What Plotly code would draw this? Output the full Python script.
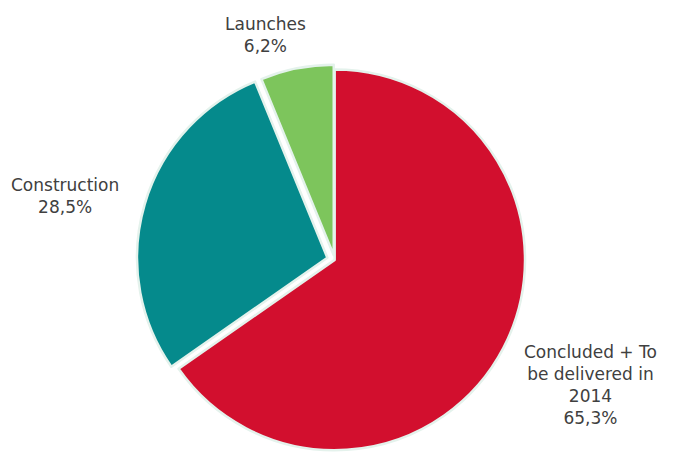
import plotly.graph_objects as go

categories = ["Concluded + To<br>be delivered in<br>2014", "Construction", "Launches"]
values = [65.3, 28.5, 6.2]
colors = ["#D20F2E", "#058A8C", "#7DC55C"]
pulls = [0, 0.04, 0.025]
label_pos = [(0.864, 0.167), (0.095, 0.576), (0.388, 0.924)]

fig = go.Figure()
fig.add_trace(go.Pie(
    labels=categories, values=values, sort=False, direction="clockwise",
    rotation=0, pull=pulls,
    marker=dict(colors=colors, line=dict(color="#E4F2EC", width=2.5)),
    textinfo="none", hoverinfo="label+percent", showlegend=False,
    domain=dict(x=[0.2, 0.78], y=[0.009, 0.866]),
))

for lab, v, (x, y) in zip(categories, values, label_pos):
    fig.add_annotation(
        x=x, y=y, xref="paper", yref="paper", showarrow=False,
        xanchor="center", yanchor="middle",
        text=f"{lab}<br>{v:.1f}%".replace(".", ","),
        font=dict(family="DejaVu Sans", size=17, color="#404040"),
        align="center",
    )

fig.update_layout(
    width=683, height=462, margin=dict(l=0, r=0, t=0, b=0),
    paper_bgcolor="white", plot_bgcolor="white",
)
fig.write_html("out.html")
